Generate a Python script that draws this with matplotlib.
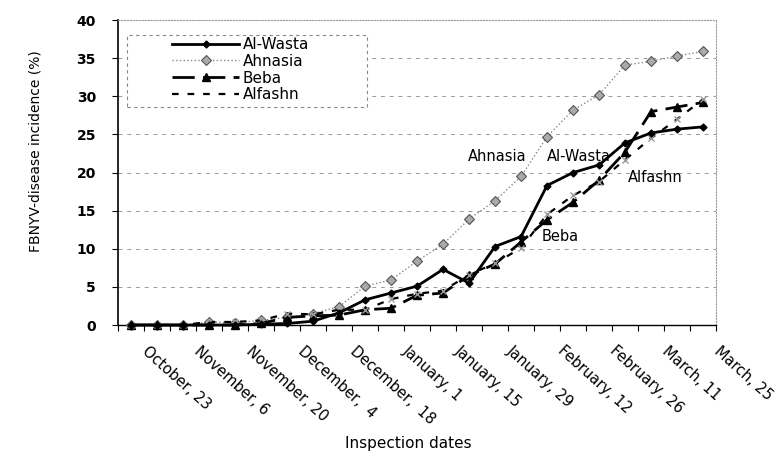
import matplotlib.pyplot as plt
import matplotlib.patches as mpatches
import numpy as np

# weekly inspection dates, only every other one gets a label
dates = ["October, 23", "October, 30", "November, 6", "November, 13", "November, 20",
         "November, 27", "December,  4", "December, 11", "December,  18", "December, 25",
         "January, 1", "January, 8", "January, 15", "January, 22", "January, 29",
         "February, 5", "February, 12", "February, 19", "February, 26", "March, 4",
         "March, 11", "March, 18", "March, 25"]

al_wasta = [0, 0, 0, 0, 0, 0.1, 0.2, 0.5, 1.6, 3.3, 4.2, 5.1, 7.3, 5.5, 10.3, 11.6,
            18.3, 20.0, 21.0, 23.9, 25.2, 25.7, 26.0]
ahnasia = [0, 0, 0, 0.4, 0.3, 0.6, 1.0, 1.5, 2.4, 5.1, 5.9, 8.4, 10.6, 13.9, 16.3, 19.5,
           24.7, 28.2, 30.2, 34.1, 34.6, 35.3, 35.9]
beba = [0, 0, 0, 0, 0, 0.2, 1.0, 1.2, 1.3, 2.0, 2.2, 3.9, 4.2, 6.5, 8.0, 10.9,
        13.8, 16.1, 19.0, 22.7, 28.0, 28.6, 29.2]
alfashn = [0, 0, 0, 0.4, 0.4, 0.6, 1.5, 1.4, 2.0, 2.0, 3.4, 4.1, 4.5, 6.6, 8.1, 10.1,
           14.5, 17.0, 18.8, 21.7, 24.5, 27.0, 29.6]

x = np.arange(len(dates))

fig = plt.figure(figsize=(7.77, 4.55), dpi=100)
ax = fig.add_axes([0.152, 0.2857, 0.7695, 0.670])

# gridlines
for v in range(5, 40, 5):
    ax.axhline(v, color='#999999', lw=0.7, ls=(0, (4, 5)), zorder=0)

ax.plot(x, ahnasia, color='#888888', lw=1, ls=':', marker='D', ms=5.5,
        mfc='#aaaaaa', mec='#555555', mew=0.8, label='Ahnasia', zorder=3, clip_on=False)
ax.plot(x, beba, color='black', lw=2, dashes=(8, 3), marker='^', ms=6,
        mfc='black', mec='black', label='Beba', zorder=4, clip_on=False)
ax.plot(x, alfashn, color='black', lw=1.6, dashes=(3, 4), label='Alfashn', zorder=4)
ax.plot(x, alfashn, ls='none', marker='x', ms=5, mec='#999999', mew=1, zorder=4, clip_on=False)
ax.plot(x, al_wasta, color='black', lw=2, marker='D', ms=3.5, label='Al-Wasta',
        zorder=5, clip_on=False)

ax.set_xlim(-0.5, len(dates) - 0.5)
ax.set_ylim(0, 40)
ax.set_yticks(range(0, 45, 5))
ax.tick_params(axis='y', length=4, pad=12, labelsize=10)
for t in ax.get_yticklabels():
    t.set_fontweight('bold')

ax.set_xticks(np.arange(-0.5, len(dates), 1))
ax.set_xticklabels([])
ax.tick_params(axis='x', length=4, direction='out')
for i in range(0, len(dates), 2):
    ax.text(i + 0.7, -0.06, dates[i], transform=ax.get_xaxis_transform(),
            rotation=-42, ha='left', va='top', rotation_mode='anchor', fontsize=10.5)

for s in ['top', 'right']:
    ax.spines[s].set_color('#999999')
    ax.spines[s].set_linestyle(':')
    ax.spines[s].set_linewidth(0.8)
ax.spines['left'].set_linewidth(1.2)
ax.spines['bottom'].set_linewidth(1)

ax.set_ylabel('FBNYV-disease incidence (%)', fontsize=10)
ax.yaxis.set_label_coords(-0.127, 0.57)
fig.text(0.525, 0.008, 'Inspection dates', ha='center', va='bottom', fontsize=11)

# labels next to the curves
ax.text(12.95, 22.1, 'Ahnasia', fontsize=10.5, va='center')
ax.text(16.0, 22.1, 'Al-Wasta', fontsize=10.5, va='center')
ax.text(19.1, 19.3, 'Alfashn', fontsize=10.5, va='center')
ax.text(15.8, 11.6, 'Beba', fontsize=10.5, va='center')

# legend with its own dashed box
box = mpatches.Rectangle((0.015, 0.715), 0.401, 0.236, transform=ax.transAxes,
                         fill=True, fc='white', ec='#888888', lw=0.8, ls=(0, (3, 3)), zorder=6)
ax.add_patch(box)
handles, labels = ax.get_legend_handles_labels()
order = [labels.index(n) for n in ['Al-Wasta', 'Ahnasia', 'Beba', 'Alfashn']]
leg = ax.legend([handles[k] for k in order], [labels[k] for k in order],
                loc='upper left', bbox_to_anchor=(0.09, 0.945), frameon=False,
                fontsize=11, handlelength=4.4, handletextpad=0.25, labelspacing=0.12,
                borderpad=0, borderaxespad=0)
leg.set_zorder(7)

fig.savefig('out.png', dpi=100)
